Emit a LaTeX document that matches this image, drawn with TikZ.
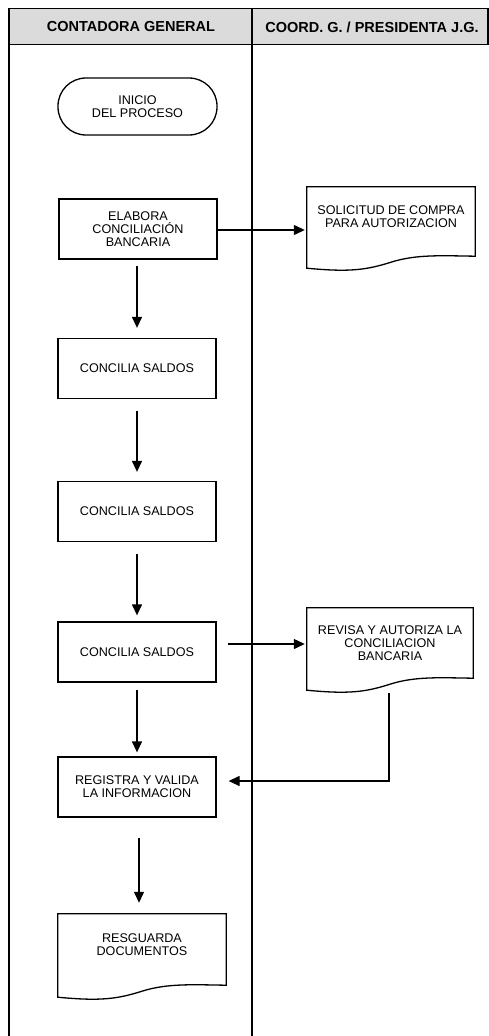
\documentclass[tikz,border=0pt]{standalone}
\usepackage{fontspec}
\setmainfont{Liberation Sans}
\usetikzlibrary{arrows.meta,calc}
\tikzset{
  frame/.style={line width=1.5pt},
  box/.style={draw, line width=1.3pt, rectangle, minimum width=158pt, minimum height=60pt, align=center, font=\fontsize{12.6}{13}\selectfont, inner sep=2pt},
  term/.style={box, rounded corners=28pt, minimum height=57pt, minimum width=159pt},
  docarea/.style={draw=none, rectangle, inner sep=0pt},
  doctext/.style={align=center, font=\fontsize{12.6}{13}\selectfont, inner sep=0pt, anchor=north},
  docline/.style={line width=1.3pt},
  arr/.style={line width=1.3pt, -{Triangle[length=11pt,width=10pt]}},
  hdr/.style={font=\fontsize{14.5}{16}\selectfont\bfseries}
}
\newcommand\docoutline[1]{%
  \draw[docline] (#1.south west)
    .. controls ($(#1.south west)!0.25!(#1.south east)+(0,4)$) and ($(#1.south west)!0.35!(#1.south east)+(0,2)$)
    .. ($(#1.south west)!0.5!(#1.south east)+(0,-6)$)
    .. controls ($(#1.south west)!0.65!(#1.south east)+(0,-14)$) and ($(#1.south west)!0.8!(#1.south east)+(0,-12.5)$)
    .. ($(#1.south east)+(0,-12)$) -- (#1.north east) -- (#1.north west) -- cycle;}
\begin{document}
\begin{tikzpicture}[x=1pt,y=-1pt]
\useasboundingbox (0,0) rectangle (489,1036);
% header and lanes
\fill[gray!28] (9,8.5) rectangle (488,44.5);
\draw[frame] (9,1040) -- (9,8.5) -- (488,8.5) -- (488,44.5) -- (9,44.5);
\draw[frame] (252,8.5) -- (252,1040);
\node[hdr] (h1) at (131,27) {CONTADORA GENERAL};
\node[hdr] (h2) at (372,27) {COORD. G. / PRESIDENTA J.G.};
% nodes
\node[term] (ini) at (137.5,106.5) {INICIO\\DEL PROCESO};
\node[box] (elab) at (138,229) {ELABORA\\CONCILIACIÓN\\BANCARIA};
\node[box] (c1) at (137,368.5) {CONCILIA SALDOS};
\node[box] (c2) at (137,511.5) {CONCILIA SALDOS};
\node[box] (c3) at (137,652) {CONCILIA SALDOS};
\node[box] (reg) at (137,787) {REGISTRA Y VALIDA\\LA INFORMACION};
% documents
\node[docarea, minimum width=168pt, minimum height=81pt] (d1) at (391,227.5) {};
\node[doctext] (d1t) at ($(d1.north)+(0,19)$) {SOLICITUD DE COMPRA\\PARA AUTORIZACION};
\docoutline{d1}
\node[docarea, minimum width=166pt, minimum height=82pt] (d2) at (390,649) {};
\node[doctext] (d2t) at ($(d2.north)+(0,18)$) {REVISA Y AUTORIZA LA\\CONCILIACION\\BANCARIA};
\docoutline{d2}
\node[docarea, minimum width=168pt, minimum height=83pt] (d3) at (142,955.5) {};
\node[doctext] (d3t) at ($(d3.north)+(0,20)$) {RESGUARDA\\DOCUMENTOS};
\docoutline{d3}
% connectors
\draw[arr, shorten >=2pt] ([yshift=-1pt]elab.east) -- ([yshift=-1pt]elab.east -| d1.west);
\draw[arr, shorten <=6pt, shorten >=10pt] (elab.south -| c1.north) -- (c1.north);
\draw[arr, shorten <=12pt, shorten >=9pt] (c1.south) -- (c2.north);
\draw[arr, shorten <=12pt, shorten >=6pt] (c2.south) -- (c3.north);
\draw[arr, shorten <=11pt, shorten >=2pt] ([yshift=8pt]c3.east) -- ([yshift=8pt]c3.east -| d2.west);
\draw[arr, shorten <=7pt, shorten >=4pt] (c3.south) -- (reg.north);
\draw[arr] ([xshift=-1pt,yshift=-3pt]d2.south) |- ([xshift=12pt,yshift=6pt]reg.east);
\draw[arr, shorten <=20pt, shorten >=11pt] ([xshift=2pt]reg.south) -- ([xshift=2pt]reg.south |- d3.north);
\end{tikzpicture}
\end{document}
